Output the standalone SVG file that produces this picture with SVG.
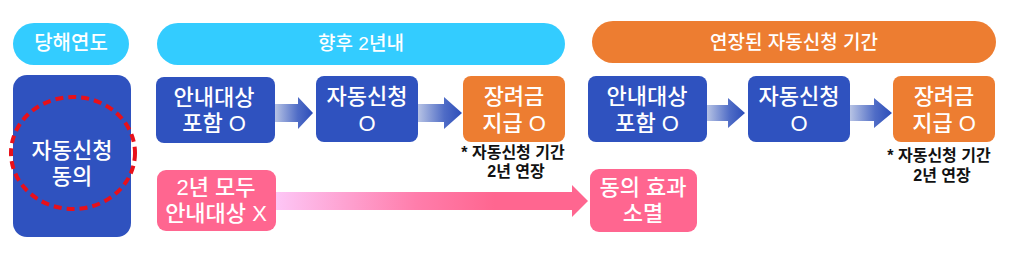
<svg xmlns="http://www.w3.org/2000/svg" width="1028" height="257" viewBox="0 0 1028 257">
<defs>
<linearGradient id="gBlue" x1="0" y1="0" x2="1" y2="0">
<stop offset="0" stop-color="#B7C3E4"/>
<stop offset="0.6" stop-color="#4F6CC6"/>
<stop offset="1" stop-color="#2C4DB9"/>
</linearGradient>
<linearGradient id="gPink" x1="0" y1="0" x2="1" y2="0">
<stop offset="0" stop-color="#FDC6F6"/>
<stop offset="0.45" stop-color="#FF7DAB"/>
<stop offset="0.7" stop-color="#FF6690"/>
<stop offset="1" stop-color="#FF6690"/>
</linearGradient>
<style>
text{font-family:"Liberation Sans","Noto Sans CJK KR",sans-serif;text-anchor:middle}
.hdr{fill:#fff;font-size:19px;font-weight:500;dominant-baseline:central}
.nt{fill:#fff;font-size:22px;font-weight:500}
.note{fill:#111;font-size:16px;font-weight:700}
.blue{fill:#2F52BF}
.orange{fill:#ED7D31}
.pink{fill:#FF6690}
.cyan{fill:#33CCFF}
</style>
</defs>
<rect width="1028" height="257" fill="#fff"/>

<g id="hdr-this-year"><rect class="cyan" x="13" y="23" width="116" height="42" rx="21"/><text class="hdr" x="71" y="43" style="font-size:20px">당해연도</text></g>
<g id="hdr-next-2y"><rect class="cyan" x="157" y="23" width="408" height="42" rx="21"/><text class="hdr" x="361" y="43">향후 2년내</text></g>
<g id="hdr-extended"><rect class="orange" x="592" y="21" width="404" height="42" rx="21"/><text class="hdr" x="794" y="42">연장된 자동신청 기간</text></g>

<g id="consent"><rect class="blue" x="13" y="75" width="118" height="162" rx="14"/>
<ellipse cx="73" cy="153" rx="62" ry="56" fill="none" stroke="#E8101A" stroke-width="4" stroke-dasharray="8 5"/>
<text class="nt" x="72" y="158">자동신청<tspan x="72" dy="26">동의</tspan></text></g>

<g id="n1"><rect class="blue" x="156" y="77" width="119" height="66" rx="8"/><text class="nt" x="214" y="105">안내대상<tspan x="214" dy="26">포함 O</tspan></text></g>
<g id="n2"><rect class="blue" x="316" y="76" width="102" height="66" rx="8"/><text class="nt" x="367" y="104">자동신청<tspan x="367" dy="27">O</tspan></text></g>
<g id="n3"><rect class="orange" x="463" y="76" width="102" height="66" rx="8"/><text class="nt" x="514" y="104">장려금<tspan x="514" dy="27">지급 O</tspan></text></g>
<g id="note1"><text class="note" x="513" y="158">* 자동신청 기간<tspan x="516" dy="19">2년 연장</tspan></text></g>

<g id="n4"><rect class="blue" x="588" y="76" width="119" height="66" rx="8"/><text class="nt" x="647" y="104">안내대상<tspan x="647" dy="27">포함 O</tspan></text></g>
<g id="n5"><rect class="blue" x="748" y="76" width="102" height="66" rx="8"/><text class="nt" x="799" y="104">자동신청<tspan x="799" dy="27">O</tspan></text></g>
<g id="n6"><rect class="orange" x="893" y="76" width="102" height="66" rx="8"/><text class="nt" x="944" y="104">장려금<tspan x="944" dy="27">지급 O</tspan></text></g>
<g id="note2"><text class="note" x="939" y="161">* 자동신청 기간<tspan x="942" dy="20">2년 연장</tspan></text></g>

<g id="p1"><rect class="pink" x="157" y="170" width="119" height="61" rx="9"/><text class="nt" x="216" y="195">2년 모두<tspan x="216" dy="26">안내대상 X</tspan></text></g>
<g id="p2"><rect class="pink" x="590" y="169" width="107" height="63" rx="9"/><text class="nt" x="643" y="195">동의 효과<tspan x="643" dy="26">소멸</tspan></text></g>

<g id="connectors">
<polygon fill="url(#gBlue)" points="275,104 298,104 298,97 313,113 298,129 298,122 275,122"/>
<polygon fill="url(#gBlue)" points="418,104 444,104 444,97 462,113 444,129 444,122 418,122"/>
<polygon fill="url(#gBlue)" points="707,105 728,105 728,98 745,113 728,128 728,121 707,121"/>
<polygon fill="url(#gBlue)" points="850,105 874,105 874,98 892,113 874,128 874,121 850,121"/>
<polygon fill="url(#gPink)" points="276,192 572,192 572,185 588,201 572,217 572,210 276,210"/>
</g>
</svg>
